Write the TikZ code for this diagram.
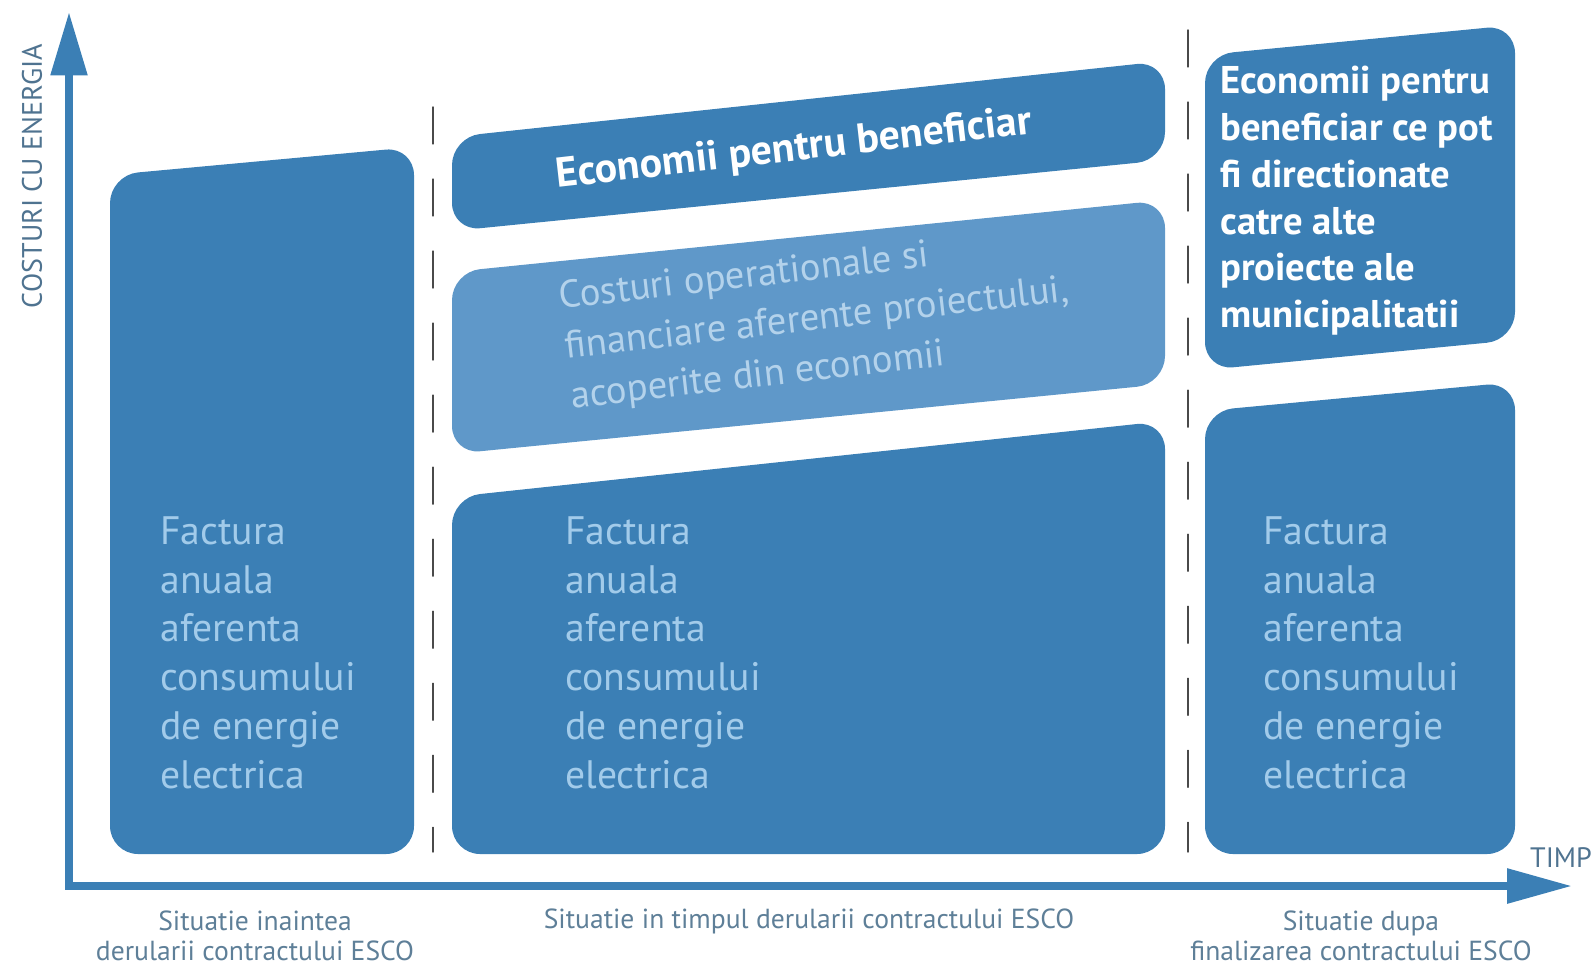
\documentclass[tikz,border=0pt]{standalone}
\usepackage{fontspec}
\setsansfont{PT Sans}
\usepackage{tikz}
\usetikzlibrary{arrows.meta,positioning}
\definecolor{escoBlue}{HTML}{3B7FB5}
\definecolor{escoPale}{HTML}{5F98C9}
\definecolor{escoSoft}{HTML}{A2CBEA}
\definecolor{escoMist}{HTML}{B3D2EB}
\definecolor{escoGrey}{HTML}{5E7F98}
\definecolor{escoInk}{HTML}{4F7390}
\definecolor{escoDash}{HTML}{4A4A4A}
\tikzset{
  esco diagram/.style={font=\sffamily, x=0.02cm, y=-0.02cm,
    line cap=round, line join=round},
  esco block/.style={fill=escoBlue, rounded corners=16pt},
  esco pale block/.style={esco block, fill=escoPale},
  esco bill/.style={anchor=north west, align=left, text=escoSoft, inner sep=0pt,
    font=\sffamily\fontsize{22.6}{27.8}\selectfont},
  esco saving/.style={align=left, text=white, inner sep=0pt,
    font=\sffamily\bfseries\fontsize{22}{26.6}\selectfont},
  esco cost/.style={align=left, text=escoMist, inner sep=0pt, rotate=6.5,
    font=\sffamily\fontsize{22}{28.5}\selectfont},
  esco caption/.style={align=center, text=escoGrey, inner sep=0pt,
    font=\sffamily\fontsize{15.7}{17}\selectfont},
  esco axis label/.style={text=escoInk, inner sep=0pt,
    font=\sffamily\fontsize{16}{18}\selectfont},
  esco axis/.style={draw=escoBlue, line width=4.5pt, line cap=butt, line join=miter},
  esco divider/.style={draw=escoDash, line width=0.8pt, dash pattern=on 21pt off 20pt}
}

\begin{document}
\begin{tikzpicture}[esco diagram]
\useasboundingbox (0,0) rectangle (1591,965);
% blocks
\fill[esco block] (110,175) -- (414,147) -- (414,854) -- (110,854) -- cycle;
\fill[esco block] (452,137) -- (1165,61) -- (1165,160) -- (452,231) -- cycle;
\fill[esco pale block] (452,272) -- (1165,200) -- (1165,384) -- (452,454) -- cycle;
\fill[esco block] (452,497) -- (1165,421) -- (1165,854) -- (452,854) -- cycle;
\fill[esco block] (1205,55) -- (1515,25) -- (1515,340) -- (1205,370) -- cycle;
\fill[esco block] (1205,411) -- (1515,382) -- (1515,854) -- (1205,854) -- cycle;
% phase dividers
\draw[esco divider] (433,107) -- (433,852);
\draw[esco divider] (1188,30) -- (1188,852);
% axes
\coordinate (origo) at (69,886);
\coordinate (ytip) at (69,12);
\coordinate (xtip) at (1572,886);
\draw[esco axis, {Triangle[length=36pt,width=20pt]}-{Triangle[length=37pt,width=19pt]}]
  (ytip) -- (origo) -- (xtip);
\node[esco axis label,rotate=90] (ylab) at (32,176) {COSTURI CU ENERGIA};
\node[esco axis label] (xlab) at (1561,858) {TIMP};
% texts
\node[esco bill] (before) at (160,516) {Factura\\anuala\\aferenta\\consumului\\de energie\\electrica};
\node[esco bill] (during) at (565,516) {Factura\\anuala\\aferenta\\consumului\\de energie\\electrica};
\node[esco bill] (after) at (1263,516) {Factura\\anuala\\aferenta\\consumului\\de energie\\electrica};
\node[esco saving,rotate=6.5,font=\sffamily\bfseries\fontsize{23.8}{27}\selectfont]
  (saving) at (794,150) {Economii pentru beneficiar};
\node[esco cost] (cost) at (817,320) {Costuri operationale si\\financiare aferente proiectului,\\acoperite din economii};
\node[esco saving,anchor=north west] (redirect) at (1220,66)
  {Economii pentru\\beneficiar ce pot\\fi directionate\\catre alte\\proiecte ale\\municipalitatii};
\node[esco caption] (capbefore) at (255,936) {Situatie inaintea\\derularii contractului ESCO};
\node[esco caption] (capduring) at (809,921) {Situatie in timpul derularii contractului ESCO};
\node[esco caption] (capafter) at (1361,936) {Situatie dupa\\finalizarea contractului ESCO};
\end{tikzpicture}
\end{document}
